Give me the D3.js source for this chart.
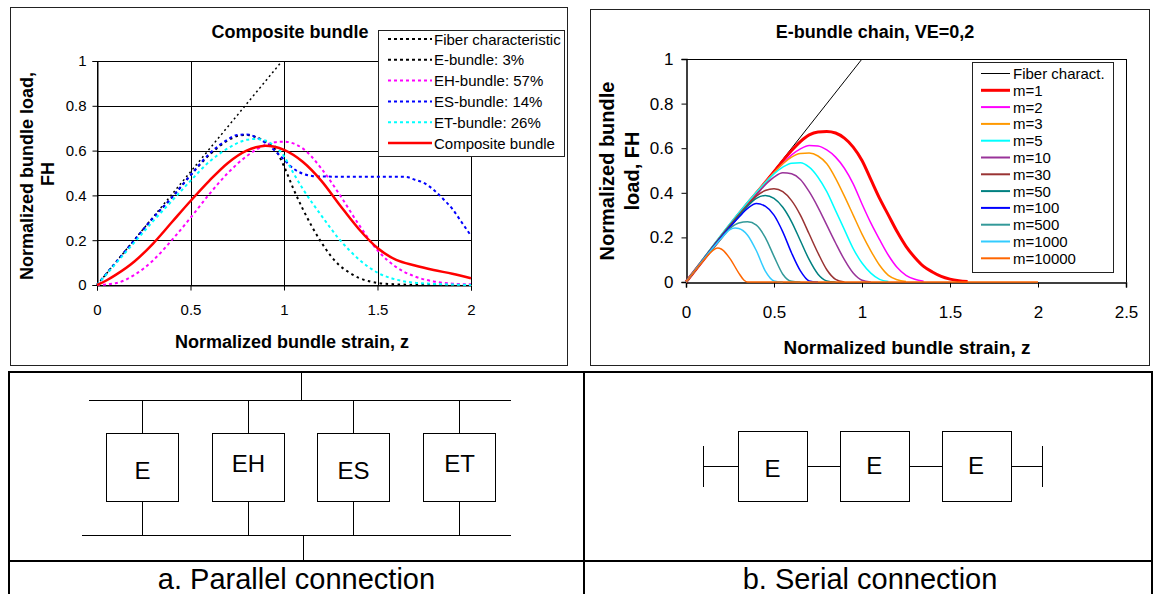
<!DOCTYPE html>
<html>
<head>
<meta charset="utf-8">
<script src="https://cdn.jsdelivr.net/npm/d3@7"></script>
<style>
  body { margin: 0; background: #fff; }
  text { font-family: "Liberation Sans", Arial, sans-serif; fill: #000; }
</style>
</head>
<body>
<div id="chart"></div>
<script>
// ---- data: left chart (composite bundle) ----
var leftXTicks = [0, 0.5, 1, 1.5, 2];
var leftYTicks = [0, 0.2, 0.4, 0.6, 0.8, 1];
var fiberLeft = [[0, 0], [0.98, 0.99]];
var eBundle = [[0,0],[0.1,0.1],[0.2,0.2],[0.3,0.3],[0.4,0.39],[0.5,0.49],[0.6,0.58],[0.7,0.645],[0.75,0.665],[0.8,0.67],[0.85,0.66],[0.9,0.64],[0.95,0.61],[1.0,0.53],[1.05,0.43],[1.1,0.34],[1.15,0.26],[1.2,0.19],[1.25,0.13],[1.3,0.085],[1.35,0.055],[1.4,0.032],[1.45,0.018],[1.5,0.009],[1.6,0.003],[1.7,0.001],[2.0,0]];
var ehBundle = [[0,0],[0.1,0.008],[0.2,0.045],[0.3,0.11],[0.4,0.2],[0.5,0.3],[0.6,0.405],[0.7,0.5],[0.8,0.575],[0.9,0.625],[0.95,0.637],[1.0,0.64],[1.05,0.632],[1.1,0.61],[1.2,0.52],[1.3,0.4],[1.4,0.27],[1.5,0.155],[1.6,0.08],[1.7,0.038],[1.8,0.016],[1.9,0.006],[2.0,0.003]];
var esBundle = [[0,0],[0.1,0.1],[0.2,0.2],[0.3,0.3],[0.4,0.39],[0.5,0.49],[0.6,0.585],[0.7,0.65],[0.75,0.67],[0.8,0.672],[0.85,0.66],[0.9,0.635],[0.95,0.6],[1.0,0.56],[1.05,0.52],[1.1,0.497],[1.15,0.487],[1.2,0.484],[1.65,0.483],[1.7,0.47],[1.75,0.455],[1.8,0.425],[1.85,0.385],[1.9,0.34],[1.95,0.28],[2.0,0.22]];
var etBundle = [[0,0],[0.1,0.095],[0.2,0.19],[0.3,0.285],[0.4,0.375],[0.5,0.465],[0.6,0.55],[0.7,0.61],[0.8,0.648],[0.85,0.652],[0.9,0.645],[0.95,0.62],[1.0,0.575],[1.05,0.5],[1.1,0.43],[1.2,0.31],[1.3,0.2],[1.4,0.115],[1.5,0.055],[1.6,0.024],[1.7,0.01],[1.8,0.005],[1.9,0.002],[2.0,0]];
var composite = [[0,0],[0.05,0.02],[0.1,0.045],[0.2,0.105],[0.3,0.185],[0.4,0.28],[0.5,0.375],[0.6,0.465],[0.7,0.545],[0.8,0.6],[0.85,0.615],[0.9,0.622],[0.95,0.617],[1.0,0.603],[1.1,0.55],[1.2,0.465],[1.3,0.355],[1.4,0.25],[1.5,0.165],[1.6,0.112],[1.7,0.087],[1.8,0.067],[1.9,0.05],[2.0,0.03]];
var leftNames = ['Fiber characteristic', 'E-bundle: 3%', 'EH-bundle: 57%', 'ES-bundle: 14%', 'ET-bundle: 26%', 'Composite bundle'];

// ---- data: right chart (E-bundle chain) ----
var rightXTicks = [0, 0.5, 1, 1.5, 2, 2.5];
var rightYTicks = [0, 0.2, 0.4, 0.6, 0.8, 1];
var fiberRight = [[0, 0], [1, 1]];
var m1 = [[0,0],[0.5,0.495],[0.6,0.59],[0.65,0.63],[0.7,0.66],[0.75,0.673],[0.8,0.675],[0.85,0.668],[0.9,0.645],[0.95,0.605],[1.0,0.545],[1.05,0.46],[1.1,0.375],[1.15,0.3],[1.2,0.225],[1.25,0.16],[1.3,0.11],[1.35,0.07],[1.4,0.045],[1.45,0.025],[1.5,0.013],[1.55,0.006],[1.6,0.002]];
var m2 = [[0,0],[0.5,0.49],[0.55,0.53],[0.6,0.57],[0.65,0.597],[0.7,0.612],[0.75,0.61],[0.8,0.592],[0.85,0.56],[0.9,0.51],[0.95,0.44],[1.0,0.35],[1.05,0.265],[1.1,0.19],[1.15,0.12],[1.2,0.065],[1.25,0.03],[1.3,0.012],[1.35,0.003]];
var m3 = [[0,0],[0.5,0.49],[0.55,0.53],[0.6,0.56],[0.65,0.576],[0.7,0.578],[0.75,0.565],[0.8,0.53],[0.85,0.465],[0.9,0.385],[0.95,0.3],[1.0,0.215],[1.05,0.14],[1.1,0.075],[1.15,0.03],[1.2,0.01],[1.25,0.002]];
var m5 = [[0,0],[0.45,0.445],[0.5,0.485],[0.55,0.515],[0.6,0.533],[0.65,0.535],[0.7,0.515],[0.75,0.47],[0.8,0.405],[0.85,0.32],[0.9,0.235],[0.95,0.15],[1.0,0.085],[1.05,0.04],[1.1,0.012],[1.15,0.002]];
var m10 = [[0,0],[0.4,0.39],[0.45,0.435],[0.5,0.47],[0.55,0.49],[0.6,0.485],[0.65,0.46],[0.7,0.405],[0.75,0.335],[0.8,0.255],[0.85,0.175],[0.9,0.1],[0.95,0.04],[1.0,0.008],[1.05,0]];
var m30 = [[0,0],[0.35,0.345],[0.4,0.385],[0.45,0.41],[0.5,0.418],[0.55,0.405],[0.6,0.365],[0.65,0.3],[0.7,0.215],[0.75,0.13],[0.8,0.055],[0.85,0.012],[0.9,0]];
var m50 = [[0,0],[0.3,0.295],[0.35,0.34],[0.4,0.375],[0.45,0.388],[0.5,0.375],[0.55,0.335],[0.6,0.27],[0.65,0.185],[0.7,0.1],[0.75,0.035],[0.8,0.005],[0.85,0]];
var m100 = [[0,0],[0.3,0.29],[0.35,0.33],[0.4,0.352],[0.45,0.34],[0.5,0.3],[0.55,0.225],[0.6,0.13],[0.65,0.05],[0.7,0.005],[0.75,0]];
var m500 = [[0,0],[0.2,0.195],[0.25,0.24],[0.3,0.265],[0.35,0.27],[0.4,0.255],[0.45,0.2],[0.5,0.115],[0.55,0.035],[0.6,0.003],[0.65,0]];
var m1000 = [[0,0],[0.2,0.195],[0.25,0.235],[0.28,0.242],[0.3,0.24],[0.35,0.21],[0.4,0.14],[0.45,0.05],[0.5,0.005],[0.55,0]];
var m10000 = [[0,0],[0.1,0.098],[0.15,0.14],[0.18,0.152],[0.2,0.148],[0.25,0.105],[0.3,0.04],[0.33,0.008],[0.35,0],[2.0,0]];
var rightNames = ['Fiber charact.', 'm=1', 'm=2', 'm=3', 'm=5', 'm=10', 'm=30', 'm=50', 'm=100', 'm=500', 'm=1000', 'm=10000'];

// ---- data: connection diagrams ----
var parallelBoxes = ['E', 'EH', 'ES', 'ET'];
var serialBoxes = ['E', 'E', 'E'];
var captions = ['a. Parallel connection', 'b. Serial connection'];

var W = 1153, H = 594;
var svg = d3.select('#chart').append('svg').attr('width', W).attr('height', H);
svg.append('rect').attr('width', W).attr('height', H).attr('fill', '#fff');

var font = '"Liberation Sans", Arial, sans-serif';

function hline(g, x1, x2, y, w) {
    return g.append('line').attr('x1', x1).attr('x2', x2).attr('y1', y).attr('y2', y)
        .attr('stroke', '#000').attr('stroke-width', w || 1).attr('shape-rendering', 'crispEdges');
}
function vline(g, x, y1, y2, w) {
    return g.append('line').attr('x1', x).attr('x2', x).attr('y1', y1).attr('y2', y2)
        .attr('stroke', '#000').attr('stroke-width', w || 1).attr('shape-rendering', 'crispEdges');
}

// ================= LEFT CHART =================
var L = { x0: 97, x1: 471, y0: 285, y1: 61 };
var lx = d3.scaleLinear().domain([0, 2]).range([L.x0, L.x1]);
var ly = d3.scaleLinear().domain([0, 1]).range([L.y0, L.y1]);

var lg = svg.append('g');
lg.append('rect').attr('x', 10.5).attr('y', 7.5).attr('width', 557).attr('height', 358)
    .attr('fill', 'none').attr('stroke', '#222').attr('stroke-width', 1);

lg.append('text').attr('x', 290).attr('y', 32).attr('text-anchor', 'middle')
    .attr('dominant-baseline', 'central').style('font-size', '18px').style('font-weight', 'bold')
    .text('Composite bundle');

// grid
leftYTicks.forEach(function(t) { hline(lg, L.x0, L.x1, Math.round(ly(t)) + 0.5); });
leftXTicks.forEach(function(t) { vline(lg, Math.round(lx(t)) + 0.5, L.y1, L.y0); });

// axes
var lyAxis = d3.axisLeft(ly).tickValues(leftYTicks).tickSize(5).tickFormat(d3.format(''));
var lxAxis = d3.axisBottom(lx).tickValues(leftXTicks).tickSize(5).tickFormat(d3.format(''));
lg.append('g').attr('transform', 'translate(' + (L.x0 + 0.5) + ',0)').call(lyAxis)
    .call(function(a) { a.selectAll('text').attr('x', -11).style('font-size', '15px').style('font-family', font).attr('fill', '#000'); });
lg.append('g').attr('transform', 'translate(0,' + (L.y0 + 0.5) + ')').call(lxAxis)
    .call(function(a) { a.selectAll('text').attr('y', 19).style('font-size', '15px').style('font-family', font).attr('fill', '#000'); });
lg.selectAll('.domain').attr('stroke', '#000');
lg.selectAll('.tick line').attr('stroke', '#000');

// axis titles
lg.append('text').attr('transform', 'translate(27,176) rotate(-90)').attr('text-anchor', 'middle')
    .attr('dominant-baseline', 'central').style('font-size', '18px').style('font-weight', 'bold')
    .text('Normalized bundle load,');
lg.append('text').attr('transform', 'translate(48,174) rotate(-90)').attr('text-anchor', 'middle')
    .attr('dominant-baseline', 'central').style('font-size', '18px').style('font-weight', 'bold')
    .text('FH');
lg.append('text').attr('x', 292).attr('y', 342).attr('text-anchor', 'middle')
    .attr('dominant-baseline', 'central').style('font-size', '18px').style('font-weight', 'bold')
    .text('Normalized bundle strain, z');

var leftSeries = [
    { d: fiberLeft, c: '#000', w: 1.5, dash: '2,3' },
    { d: eBundle, c: '#000', w: 2, dash: '2.5,3.5' },
    { d: ehBundle, c: '#ff00ff', w: 2, dash: '3,3' },
    { d: esBundle, c: '#0000ff', w: 2, dash: '3,3' },
    { d: etBundle, c: '#00ffff', w: 2, dash: '3,3' },
    { d: composite, c: '#ff0000', w: 2.5, dash: null }
];
var lline = d3.line().x(function(p) { return lx(p[0]); }).y(function(p) { return ly(p[1]); })
    .curve(d3.curveMonotoneX);
lg.selectAll('path.ser').data(leftSeries).enter().append('path').attr('class', 'ser')
    .attr('d', function(s) { return lline(s.d); })
    .attr('fill', 'none').attr('stroke', function(s) { return s.c; })
    .attr('stroke-width', function(s) { return s.w; })
    .attr('stroke-dasharray', function(s) { return s.dash; });

// legend
var llg = lg.append('g');
llg.append('rect').attr('x', 378.5).attr('y', 30.5).attr('width', 186).attr('height', 126)
    .attr('fill', '#fff').attr('stroke', '#222').attr('stroke-width', 1);
leftSeries.forEach(function(s, i) {
    var y = 39 + i * 20.8;
    llg.append('line').attr('x1', 388).attr('x2', 432).attr('y1', y).attr('y2', y)
        .attr('stroke', s.c).attr('stroke-width', s.w === 1.5 ? 2 : s.w).attr('stroke-dasharray', s.dash ? '3,3' : null);
    llg.append('text').attr('x', 434).attr('y', y).attr('dominant-baseline', 'central')
        .style('font-size', '15px').text(leftNames[i]);
});

// ================= RIGHT CHART =================
var R = { x0: 686, x1: 1126, y0: 282, y1: 59 };
var rx = d3.scaleLinear().domain([0, 2.5]).range([R.x0, R.x1]);
var ry = d3.scaleLinear().domain([0, 1]).range([R.y0, R.y1]);

var rg = svg.append('g');
rg.append('rect').attr('x', 590.5).attr('y', 9.5).attr('width', 559).attr('height', 356)
    .attr('fill', 'none').attr('stroke', '#222').attr('stroke-width', 1);

rg.append('text').attr('x', 875).attr('y', 32).attr('text-anchor', 'middle')
    .attr('dominant-baseline', 'central').style('font-size', '18px').style('font-weight', 'bold')
    .text('E-bundle chain, VE=0,2');

// plot frame top + right
hline(rg, R.x0, R.x1, R.y1 + 0.5);
vline(rg, R.x1 + 0.5, R.y1, R.y0);

var ryAxis = d3.axisLeft(ry).tickValues(rightYTicks).tickSize(5).tickFormat(d3.format(''));
var rxAxis = d3.axisBottom(rx).tickValues(rightXTicks).tickSize(5).tickFormat(d3.format(''));
rg.append('g').attr('transform', 'translate(' + (R.x0 + 0.5) + ',0)').call(ryAxis)
    .call(function(a) { a.selectAll('text').attr('x', -13).style('font-size', '17px').style('font-family', font).attr('fill', '#000'); });
rg.append('g').attr('transform', 'translate(0,' + (R.y0 + 0.5) + ')').call(rxAxis)
    .call(function(a) { a.selectAll('text').attr('y', 23).style('font-size', '17px').style('font-family', font).attr('fill', '#000'); });
rg.selectAll('.domain').attr('stroke', '#000').attr('stroke-width', 1.5);
rg.selectAll('.tick line').attr('stroke', '#000');

rg.append('text').attr('transform', 'translate(607,171) rotate(-90)').attr('text-anchor', 'middle')
    .attr('dominant-baseline', 'central').style('font-size', '20px').style('font-weight', 'bold')
    .text('Normalized bundle');
rg.append('text').attr('transform', 'translate(632,171) rotate(-90)').attr('text-anchor', 'middle')
    .attr('dominant-baseline', 'central').style('font-size', '20px').style('font-weight', 'bold')
    .text('load, FH');
rg.append('text').attr('x', 907).attr('y', 347).attr('text-anchor', 'middle')
    .attr('dominant-baseline', 'central').style('font-size', '19px').style('font-weight', 'bold')
    .text('Normalized bundle strain, z');

var rightSeries = [
    { d: fiberRight, c: '#000', w: 1 },
    { d: m1, c: '#ff0000', w: 3 },
    { d: m2, c: '#ff00ff', w: 1.5 },
    { d: m3, c: '#ff9900', w: 1.5 },
    { d: m5, c: '#00ffff', w: 1.5 },
    { d: m10, c: '#993399', w: 1.5 },
    { d: m30, c: '#993333', w: 1.5 },
    { d: m50, c: '#008080', w: 1.5 },
    { d: m100, c: '#0000ff', w: 1.5 },
    { d: m500, c: '#339999', w: 1.5 },
    { d: m1000, c: '#33ccff', w: 1.5 },
    { d: m10000, c: '#ff6600', w: 1.5 }
];
var rline = d3.line().x(function(p) { return rx(p[0]); }).y(function(p) { return ry(p[1]); })
    .curve(d3.curveMonotoneX);
rg.selectAll('path.ser').data(rightSeries).enter().append('path').attr('class', 'ser')
    .attr('d', function(s) { return rline(s.d); })
    .attr('fill', 'none').attr('stroke', function(s) { return s.c; })
    .attr('stroke-width', function(s) { return s.w; });

var rlg = rg.append('g');
rlg.append('rect').attr('x', 972.5).attr('y', 62.5).attr('width', 141).attr('height', 210)
    .attr('fill', '#fff').attr('stroke', '#222').attr('stroke-width', 1);
rightSeries.forEach(function(s, i) {
    var y = 73.5 + i * 16.8;
    rlg.append('line').attr('x1', 981).attr('x2', 1010).attr('y1', y).attr('y2', y)
        .attr('stroke', s.c).attr('stroke-width', s.w === 3 ? 3 : (s.w === 1 ? 1 : 2));
    rlg.append('text').attr('x', 1013).attr('y', y).attr('dominant-baseline', 'central')
        .style('font-size', '15px').text(rightNames[i]);
});

// ================= TABLE WITH DIAGRAMS =================
var T = { left: 9, right: 1152, top: 372, mid: 584, cap: 561, bottom: 594 };
var tg = svg.append('g');
hline(tg, T.left - 1, T.right + 1, T.top, 2);
hline(tg, T.left - 1, T.right + 1, T.cap, 2);
vline(tg, T.left, T.top, T.bottom, 2);
vline(tg, T.mid, T.top, T.bottom, 2);
vline(tg, T.right, T.top, T.bottom, 2);

// parallel connection
var pBoxW = 72, pBoxH = 68, pBoxTop = 433;
var px = d3.scalePoint().domain(d3.range(parallelBoxes.length)).range([142, 459]);
var pg = tg.append('g');
hline(pg, 89, 511, 400);
hline(pg, 82, 511, 535);
vline(pg, 301, T.top, 400);
vline(pg, 303, 535, T.cap);
parallelBoxes.forEach(function(lbl, i) {
    var cx = Math.round(px(i)) + 0.5;
    vline(pg, cx, 400, pBoxTop);
    vline(pg, cx, pBoxTop + pBoxH, 535);
    pg.append('rect').attr('x', cx - pBoxW / 2).attr('y', pBoxTop + 0.5).attr('width', pBoxW).attr('height', pBoxH)
        .attr('fill', '#fff').attr('stroke', '#000').attr('stroke-width', 1);
    pg.append('text').attr('x', cx).attr('y', pBoxTop + pBoxH / 2 + (i % 2 ? -4 : 3))
        .attr('text-anchor', 'middle').attr('dominant-baseline', 'central')
        .style('font-size', '24px').text(lbl);
});

// serial connection
var sBoxW = 69, sBoxH = 70, sBoxTop = 431, sMidY = 466.5;
var sx = d3.scalePoint().domain(d3.range(serialBoxes.length)).range([772.5, 976]);
var sg = tg.append('g');
hline(sg, 703, 1042, sMidY);
vline(sg, 703.5, 446, 487);
vline(sg, 1042.5, 446, 487);
serialBoxes.forEach(function(lbl, i) {
    var cx = sx(i);
    sg.append('rect').attr('x', Math.round(cx - sBoxW / 2) + 0.5).attr('y', sBoxTop + 0.5).attr('width', sBoxW).attr('height', sBoxH)
        .attr('fill', '#fff').attr('stroke', '#000').attr('stroke-width', 1);
    sg.append('text').attr('x', cx).attr('y', sBoxTop + sBoxH / 2 + (i === 0 ? 2 : -1))
        .attr('text-anchor', 'middle').attr('dominant-baseline', 'central')
        .style('font-size', '24px').text(lbl);
});

// captions
tg.append('text').attr('x', (T.left + T.mid) / 2).attr('y', 579).attr('text-anchor', 'middle')
    .attr('dominant-baseline', 'central').style('font-size', '29px').text(captions[0]);
tg.append('text').attr('x', 870).attr('y', 579).attr('text-anchor', 'middle')
    .attr('dominant-baseline', 'central').style('font-size', '29px').text(captions[1]);
</script>
</body>
</html>
